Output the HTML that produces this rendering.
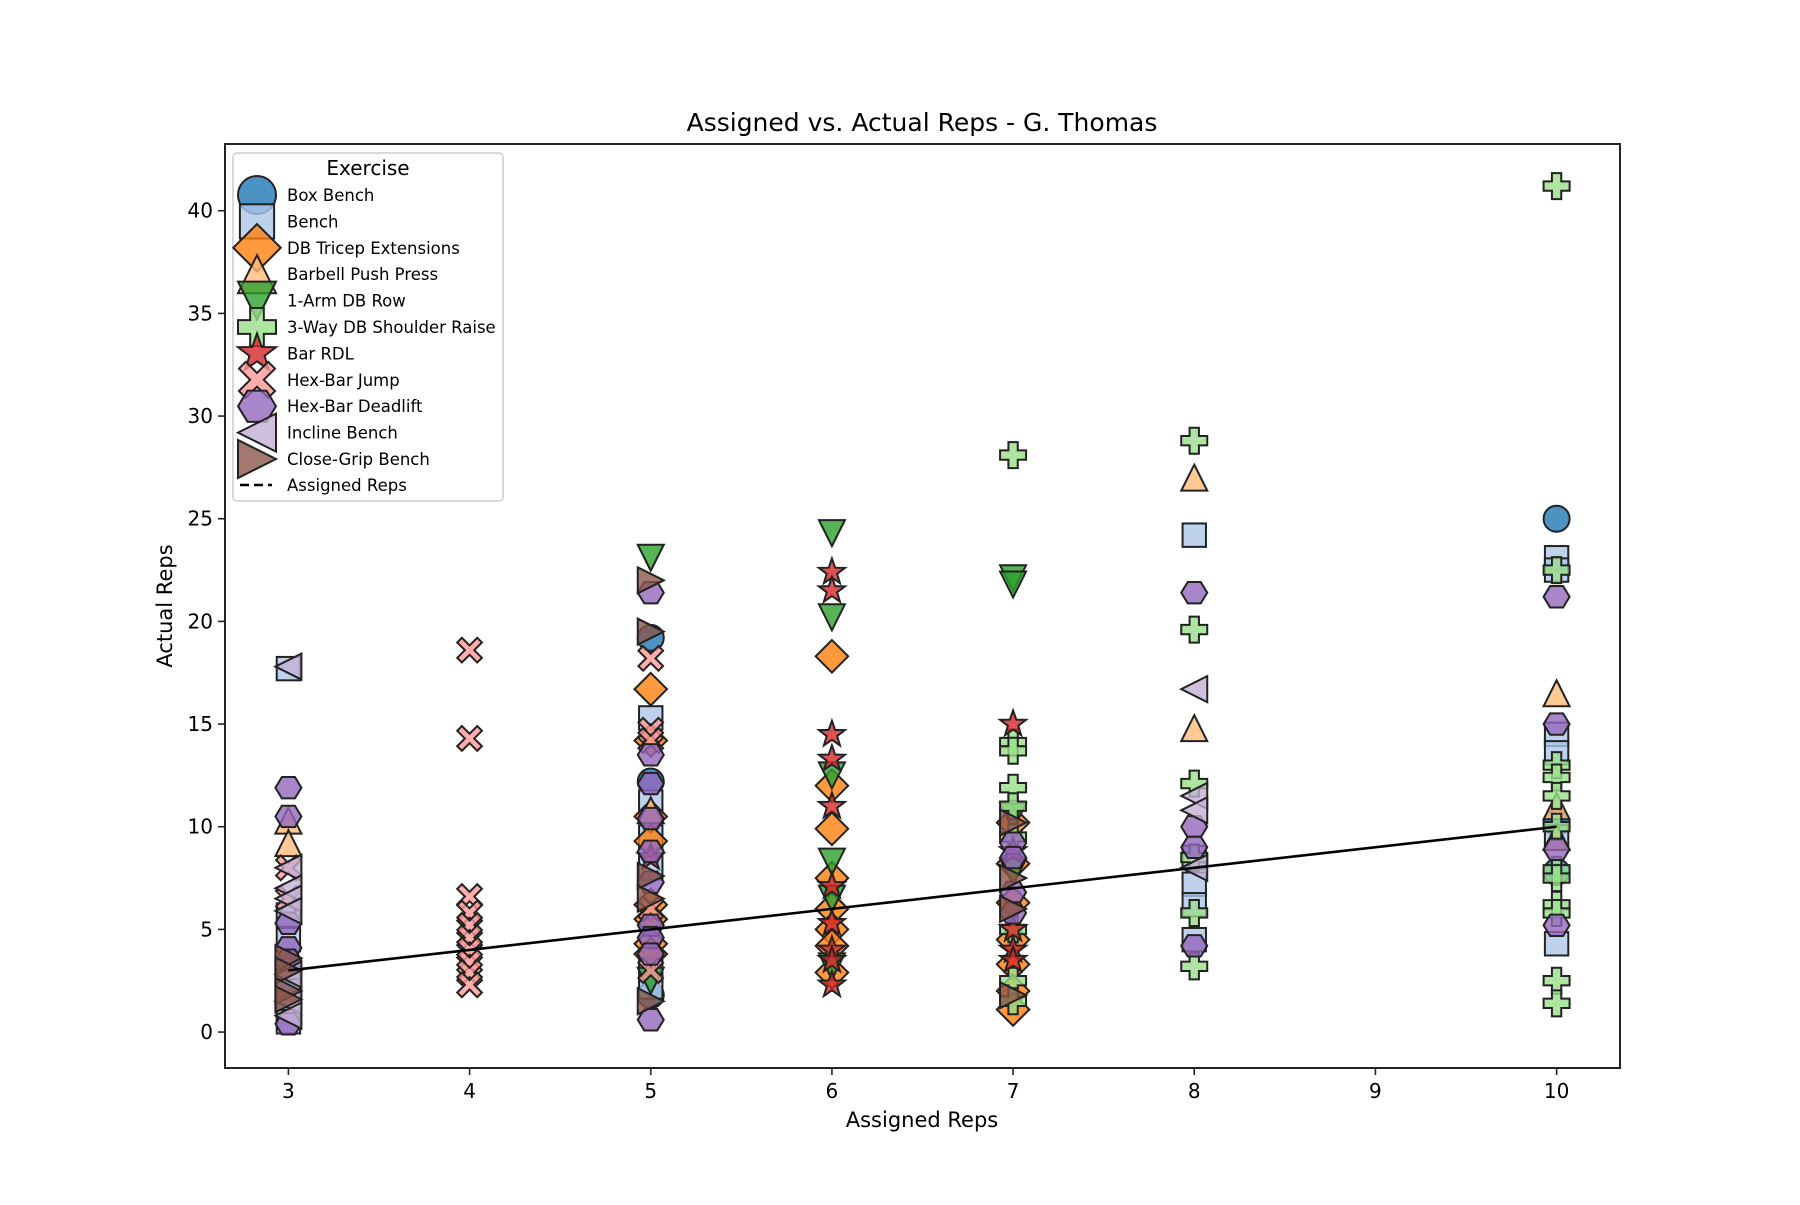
<!DOCTYPE html>
<html><head><meta charset="utf-8"><style>
html,body{margin:0;padding:0;background:#fff;}
svg text{font-family:"DejaVu Sans","Liberation Sans",sans-serif;fill:#000;}
</style></head><body>
<svg id="chart" xmlns="http://www.w3.org/2000/svg" width="1800" height="1200" viewBox="0 0 1800 1200">
<rect x="0" y="0" width="1800" height="1200" fill="#fff"/>
<g id="marks"></g>
<g id="axes"></g>
<g id="legend"></g>
<text x="922" y="131" font-size="25" text-anchor="middle">Assigned vs. Actual Reps - G. Thomas</text>
<text x="922" y="1127" font-size="21" text-anchor="middle">Assigned Reps</text>
<text x="0" y="0" font-size="21" text-anchor="middle" transform="translate(172,606) rotate(-90)">Actual Reps</text>
</svg>
<script>
const seriesNames = ["Box Bench","Bench","DB Tricep Extensions","Barbell Push Press","1-Arm DB Row","3-Way DB Shoulder Raise","Bar RDL","Hex-Bar Jump","Hex-Bar Deadlift","Incline Bench","Close-Grip Bench"];
const seriesColors = ["#1f77b4","#aec7e8","#ff7f0e","#ffbb78","#2ca02c","#98df8a","#d62728","#ff9896","#9467bd","#c5b0d5","#8c564b"];
const seriesMarkers = ["o","s","D","^","v","P","*","X","h","<",">"];
const xTicks = [3,4,5,6,7,8,9,10];
const yTicks = [0,5,10,15,20,25,30,35,40];
const lineX = [3,4,5,6,7,8,10];
// series points: [assigned, actual]
const boxBench = [[3,2.5],[3,1.2],[5,19.2],[5,12.2],[5,1.8],[10,25.0],[10,10.2],[10,7.8]];
const bench = [[3,17.7],[3,5.7],[3,4.5],[3,3.0],[3,2.0],[3,1.0],[3,0.5],[5,15.3],[5,11.2],[5,9.5],[5,8.0],[5,3.0],[5,2.2],[8,24.2],[8,8.5],[8,7.2],[8,6.2],[8,4.5],[10,23.1],[10,22.5],[10,14.5],[10,13.6],[10,9.5],[10,4.3]];
const dbTricep = [[5,16.7],[5,14.2],[5,10.5],[5,9.3],[5,6.2],[5,5.5],[5,4.3],[5,3.8],[6,18.3],[6,12.0],[6,9.9],[6,7.5],[6,6.0],[6,5.0],[6,4.2],[6,2.9],[7,10.2],[7,8.2],[7,6.3],[7,4.5],[7,3.3],[7,2.0],[7,1.1]];
const barbellPush = [[3,10.3],[3,9.2],[5,10.8],[8,27.0],[8,14.8],[10,16.5],[10,11.0],[10,9.5]];
const armRow = [[5,23.1],[5,2.5],[6,24.3],[6,20.2],[6,12.5],[6,8.3],[6,6.5],[6,3.2],[7,22.1],[7,21.8],[7,10.5],[7,7.8]];
const shoulderRaise = [[7,28.1],[7,14.1],[7,13.7],[7,11.9],[7,11.0],[7,9.5],[7,5.0],[7,2.5],[7,1.5],[8,28.8],[8,19.6],[8,12.1],[8,8.5],[8,5.8],[8,3.2],[10,41.2],[10,22.5],[10,13.0],[10,12.4],[10,11.5],[10,10.0],[10,7.9],[10,7.5],[10,6.2],[10,5.8],[10,2.5],[10,1.4]];
const barRdl = [[5,8.5],[6,22.4],[6,21.5],[6,14.5],[6,13.3],[6,11.0],[6,7.1],[6,5.3],[6,4.0],[6,3.5],[6,2.3],[7,15.0],[7,8.8],[7,5.0],[7,4.0],[7,3.5]];
const hexJump = [[3,8.0],[3,6.5],[4,18.6],[4,14.3],[4,6.6],[4,5.8],[4,5.2],[4,4.6],[4,4.0],[4,3.4],[4,2.9],[4,2.3],[5,18.2],[5,14.7],[5,14.2],[5,6.0],[5,3.0]];
const hexDeadlift = [[3,11.9],[3,10.5],[3,5.3],[3,4.1],[3,3.5],[3,0.4],[5,21.4],[5,13.5],[5,12.1],[5,10.4],[5,8.8],[5,7.3],[5,5.2],[5,4.6],[5,3.8],[5,0.6],[7,9.2],[7,8.5],[7,6.8],[7,5.8],[8,21.4],[8,10.0],[8,9.0],[8,4.2],[10,21.2],[10,15.0],[10,8.9],[10,5.2]];
const inclineBench = [[3,17.8],[3,8.0],[3,7.0],[3,6.5],[3,5.9],[3,2.8],[3,1.5],[3,0.8],[8,16.7],[8,11.5],[8,10.8],[8,8.0]];
const closeGrip = [[3,3.6],[3,3.0],[3,2.0],[3,1.6],[5,22.0],[5,19.5],[5,7.6],[5,6.5],[5,1.5],[7,10.2],[7,7.5],[7,6.0],[7,1.8]];
const allSeries = [boxBench,bench,dbTricep,barbellPush,armRow,shoulderRaise,barRdl,hexJump,hexDeadlift,inclineBench,closeGrip];

const NS="http://www.w3.org/2000/svg";
const L=225,R=1620,T=144,B=1068;
const xMin=2.65,xMax=10.35,yMin=-1.75,yMax=43.25;
function sx(v){return L+(v-xMin)/(xMax-xMin)*(R-L);}
function sy(v){return B-(v-yMin)/(yMax-yMin)*(B-T);}
function mk(tag,attrs,parent){const e=document.createElementNS(NS,tag);for(const k in attrs)e.setAttribute(k,attrs[k]);parent.appendChild(e);return e;}
function poly(pts){return pts.map(p=>p[0].toFixed(2)+","+p[1].toFixed(2)).join(" ");}
function markerShape(m,cx,cy,r,parent,fill){
  const st={fill:fill,"fill-opacity":0.8,stroke:"#222","stroke-width":2,"stroke-linejoin":"miter"};
  let e;
  if(m==="o"){e=mk("circle",Object.assign({cx:cx,cy:cy,r:r},st),parent);}
  else if(m==="s"){const a=r*0.9;e=mk("rect",Object.assign({x:cx-a,y:cy-a,width:2*a,height:2*a},st),parent);}
  else if(m==="D"){const a=r*1.25;e=mk("polygon",Object.assign({points:poly([[cx,cy-a],[cx+a,cy],[cx,cy+a],[cx-a,cy]])},st),parent);}
  else if(m==="^"||m==="v"||m==="<"||m===">"){
    let pts=[[0,-1],[-1,1],[1,1]];
    if(m==="v")pts=pts.map(p=>[p[0],-p[1]]);
    if(m==="<")pts=pts.map(p=>[p[1],p[0]]);
    if(m===">")pts=pts.map(p=>[-p[1],p[0]]);
    e=mk("polygon",Object.assign({points:poly(pts.map(p=>[cx+p[0]*r,cy+p[1]*r]))},st),parent);}
  else if(m==="P"){const a=r,b=r*0.36;e=mk("polygon",Object.assign({points:poly([[-b,-a],[b,-a],[b,-b],[a,-b],[a,b],[b,b],[b,a],[-b,a],[-b,b],[-a,b],[-a,-b],[-b,-b]].map(p=>[cx+p[0],cy+p[1]]))},st),parent);}
  else if(m==="*"){const pts=[];for(let i=0;i<10;i++){const ang=-Math.PI/2+i*Math.PI/5;const rr=i%2?r*0.42:r*1.05;pts.push([cx+rr*Math.cos(ang),cy+rr*Math.sin(ang)]);}e=mk("polygon",Object.assign({points:poly(pts)},st),parent);}
  else if(m==="X"){const a=r*0.95,w=r*0.36;const base=[[0,-w],[a-w,-a],[a,-a+w],[w,0],[a,a-w],[a-w,a],[0,w],[-a+w,a],[-a,a-w],[-w,0],[-a,-a+w],[-a+w,-a]];e=mk("polygon",Object.assign({points:poly(base.map(p=>[cx+p[0],cy+p[1]]))},st),parent);}
  else if(m==="h"){const pts=[];for(let i=0;i<6;i++){const ang=i*Math.PI/3;pts.push([cx+r*Math.cos(ang),cy+r*0.95*Math.sin(ang)]);}e=mk("polygon",Object.assign({points:poly(pts)},st),parent);}
  return e;
}
const marks=document.getElementById("marks");
allSeries.forEach((ser,si)=>{
  const g=mk("g",{},marks);
  
  
  ser.forEach(p=>{
    const e=markerShape(seriesMarkers[si],sx(p[0]),sy(p[1]),13,g,seriesColors[si]);
    
    
  });
});
const lp=lineX.map(v=>[sx(v),sy(v)]);
const ln=mk("polyline",{points:poly(lp),fill:"none",stroke:"#000","stroke-width":2.6},marks);



const axes=document.getElementById("axes");
const frame=mk("rect",{x:L,y:T,width:R-L,height:B-T,fill:"none",stroke:"#222","stroke-width":2},axes);


xTicks.forEach(v=>{
  const x=sx(v);
  const t=mk("line",{x1:x,y1:B,x2:x,y2:B+7,stroke:"#222","stroke-width":1.6},axes);
  
  
  const lb=mk("text",{x:x,y:B+30,"font-size":20,"text-anchor":"middle"},axes);
  lb.textContent=String(v);
  
  
});
yTicks.forEach(v=>{
  const y=sy(v);
  const t=mk("line",{x1:L-7,y1:y,x2:L,y2:y,stroke:"#222","stroke-width":1.6},axes);
  
  
  const lb=mk("text",{x:L-12,y:y+7,"font-size":20,"text-anchor":"end"},axes);
  lb.textContent=String(v);
  
  
});

const leg=document.getElementById("legend");
const box=mk("rect",{x:233,y:153,width:270,height:348,rx:4,fill:"#fff","fill-opacity":0.8,stroke:"#ccc","stroke-width":1.5},leg);


const lt=mk("text",{x:368,y:175,"font-size":20,"text-anchor":"middle"},leg);
lt.textContent="Exercise";


seriesNames.forEach((n,i)=>{
  const cy=195+i*26.4;
  const g=mk("g",{},leg);
  
  
  markerShape(seriesMarkers[i],257,cy,19,g,seriesColors[i]);
  const tx=mk("text",{x:287,y:cy+6,"font-size":16.5},g);
  tx.textContent=n;
});
const lg=mk("g",{},leg);


mk("line",{x1:240,y1:485,x2:272,y2:485,stroke:"#000","stroke-width":2.6,"stroke-dasharray":"9,5"},lg);
const lt2=mk("text",{x:287,y:491,"font-size":16.5},lg);
lt2.textContent="Assigned Reps";
</script>
</body></html>
